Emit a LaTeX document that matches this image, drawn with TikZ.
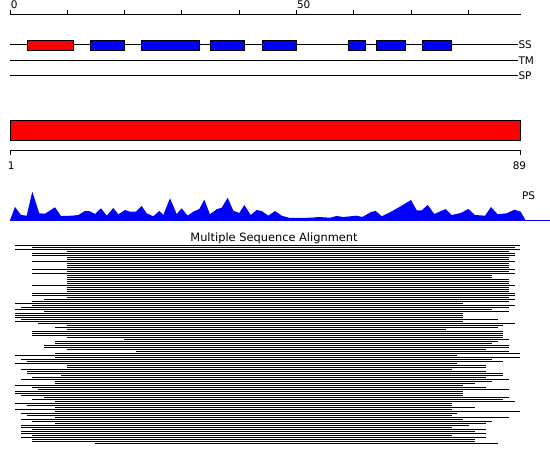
\documentclass[tikz,border=0pt]{standalone}
\usepackage{fontspec}
\setmainfont{DejaVu Sans}
\begin{document}
\begin{tikzpicture}[x=1pt,y=-1pt,line width=1pt,
  lbl/.style={font=\fontsize{10.5}{12}\selectfont,inner sep=0pt},
  ttl/.style={font=\fontsize{11.4}{13}\selectfont,inner sep=0pt},
  ssbox/.style={draw=black,line width=1pt},
  msaline/.style={draw=black,line width=1pt},
  psfill/.style={fill=blue},
]
\useasboundingbox (0,0) rectangle (550,465);
% top ruler
\coordinate (rA) at (10,15);
\coordinate (rB) at (521,15);
\draw (rA) -- (rB);
\foreach \i in {0,...,8} \draw ({10+57.303*\i},15) -- ({10+57.303*\i},10);
\node[lbl,anchor=base west] (t0) at (10.3,8.5) {0};
\node[lbl,anchor=base west] (t50) at (296.5,8.5) {50};
% SS TM SP tracks
\draw (10,45) -- (518,45) node[lbl,anchor=west] (ss) {SS};
\draw (10,60.3) -- (518,60.3) node[lbl,anchor=west] (tm) {TM};
\draw (10,75.3) -- (518,75.3) node[lbl,anchor=west] (sp) {SP};
\filldraw[ssbox,fill=red] (27.3,40.3) rectangle (73.7,50.3);
\foreach \a/\b in {90.3/124.7,141.3/199.7,210.3/244.7,262.3/296.7,348.3/365.7,376/405.7,422/451.3}
  \filldraw[ssbox,fill=blue] (\a,40.3) rectangle (\b,50.3);
% big red bar
\filldraw[ssbox,fill=red] (10,120.3) rectangle (520,140.5);
% second ruler
\draw (10,155) -- (10,150.7) -- (520,150.7) -- (520,155);
\node[lbl,anchor=base] (l1) at (11.3,170) {1};
\node[lbl,anchor=base] (l89) at (519.5,170) {89};
% PS profile
\fill[psfill] (10,220.3) -- (15,207) -- (21,215) -- (26.7,215.7) -- (32.3,191.7) -- (39.3,213.3) -- (45,213.7) -- (55,207.3) -- (61,216) -- (71.7,215.7) -- (78.3,215) -- (85,211) -- (90,211.3) -- (95,214) -- (101,208.3) -- (106.7,215.7) -- (113.3,208) -- (118.3,214.3) -- (125,210) -- (130,211.7) -- (136,211.7) -- (141.7,206) -- (146.7,213.3) -- (153.3,216.3) -- (159.3,211) -- (163.3,215) -- (170,198.3) -- (176.7,214) -- (181.7,208.3) -- (187.7,215.7) -- (193.3,211.7) -- (199.3,209) -- (204.3,199.7) -- (210,214.3) -- (216.7,209.3) -- (221.7,207.7) -- (227.7,197.7) -- (233.3,210.7) -- (239.3,213) -- (244.3,205) -- (250.7,215) -- (256.7,210) -- (261.7,211) -- (268.3,215.7) -- (275,211) -- (281.7,215.7) -- (290,218) -- (311.7,217.7) -- (318.3,217) -- (330,217.7) -- (336.7,216) -- (343.3,217) -- (356.7,215.7) -- (362.3,217) -- (371.7,211.7) -- (375.7,211) -- (381.7,216.3) -- (390,212.3) -- (401.7,205.7) -- (411,200) -- (416.7,210.3) -- (421.7,210.3) -- (427.7,205) -- (434.3,214) -- (445.7,209) -- (451.7,215) -- (460.7,213) -- (468.3,209) -- (475,215) -- (485,215.7) -- (491,207) -- (497.7,214.3) -- (506.7,213.3) -- (514.3,209.7) -- (520.7,211.7) -- (525,219.3) -- (525,220.8) -- (10,220.8) -- cycle;
\draw[blue] (10,220.3) -- (550,220.3);
\node[lbl,anchor=base west] (ps) at (521.5,200) {PS};
% MSA
\node[ttl,anchor=base] (msa) at (274,241.3) {Multiple Sequence Alignment};
\foreach \k/\e [count=\n] in {0/89,3/88,0/89,9/87,3/88,3/88,9/87,9/87,3/88,9/87,
  9/87,9/87,3/88,9/87,3/88,9/84,9/84,9/87,9/87,9/87,
  3/88,9/87,9/87,9/87,3/88,3/88,9/87,5/88,3/87,0/79,
  3/88,1/87,0/84,5/87,0/79,0/79,0/79,1/85,0/79,4/88,
  9/86,7/85,9/76,3/86,3/86,3/86,9/86,19/87,7/85,7/84,
  5/87,5/87,9/83,21/87,7/89,0/78,7/89,1/84,2/86,0/78,
  9/83,9/83,1/77,2/83,2/86,8/86,3/83,1/87,7/84,7/81,
  0/79,3/83,4/87,0/79,0/79,1/79,5/87,3/86,7/88,0/77,
  2/77,7/81,0/77,7/89,1/78,2/77,7/87,1/79,3/84,7/83,
  1/80,1/77,3/83,1/81,1/83,3/77,1/83,3/81,3/81,14/85}
  \draw[msaline] ({10+5.7303*(\k+1)-0.5},{243.3+2*\n}) -- ({10+5.7303*\e+0.5},{243.3+2*\n});
\end{tikzpicture}
\end{document}
